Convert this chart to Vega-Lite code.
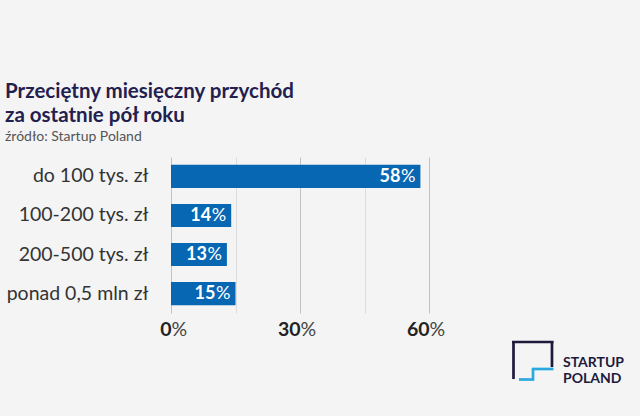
{
  "$schema": "https://vega.github.io/schema/vega-lite/v6.json",
  "autosize": {"type": "none"},
  "padding": {"left": 171, "top": 157, "right": 211, "bottom": 103},
  "width": 258,
  "height": 156,
  "background": "#f4f4f4",
  "config": {"font": "Lato", "view": {"stroke": null}},
  "title": {
    "text": ["Przeciętny miesięczny przychód", "za ostatnie pół roku"],
    "subtitle": "źródło: Startup Poland",
    "anchor": "start",
    "frame": "group",
    "dx": -166,
    "offset": 13,
    "fontSize": 20.5,
    "fontWeight": "bold",
    "lineHeight": 24,
    "color": "#23204f",
    "subtitleFontSize": 14,
    "subtitleColor": "#555555",
    "subtitlePadding": 4
  },
  "data": {
    "values": [
      {"kategoria": "do 100 tys. zł", "udzial": 58},
      {"kategoria": "100-200 tys. zł", "udzial": 14},
      {"kategoria": "200-500 tys. zł", "udzial": 13},
      {"kategoria": "ponad 0,5 mln zł", "udzial": 15}
    ]
  },
  "layer": [
    {
      "mark": {"type": "bar", "color": "#0767b3"},
      "encoding": {
        "y": {
          "field": "kategoria",
          "type": "nominal",
          "sort": null,
          "title": null,
          "scale": {"paddingInner": 0.41, "paddingOuter": 0.2},
          "axis": {
            "ticks": false,
            "domain": false,
            "labelPadding": 23,
            "labelFontSize": 19.5,
            "labelColor": "#333333",
            "labelLimit": 200
          }
        },
        "x": {
          "field": "udzial",
          "type": "quantitative",
          "title": null,
          "scale": {"domain": [0, 60], "nice": false},
          "axis": {
            "orient": "bottom",
            "values": [0, 15, 30, 45, 60],
            "labelExpr": "datum.value % 30 === 0 ? datum.value : ''",
            "labelAlign": "right",
            "labelDx": 3,
            "labelPadding": 7,
            "labelFontSize": 19.5,
            "labelFontWeight": "bold",
            "labelColor": "#222222",
            "ticks": false,
            "domain": false,
            "grid": true,
            "gridColor": {"condition": {"test": "datum.value % 30 === 0", "value": "#c2c2c2"}, "value": "#dcdcdc"}
          }
        }
      }
    },
    {
      "mark": {"type": "text", "align": "right", "baseline": "middle", "dx": -20, "fontSize": 18, "fontWeight": "bold", "color": "white"},
      "encoding": {
        "y": {"field": "kategoria", "type": "nominal", "sort": null, "axis": null},
        "x": {"field": "udzial", "type": "quantitative", "axis": null},
        "text": {"field": "udzial"}
      }
    },
    {
      "mark": {"type": "text", "align": "right", "baseline": "middle", "dx": -5, "fontSize": 18, "color": "white", "text": "%"},
      "encoding": {
        "y": {"field": "kategoria", "type": "nominal", "sort": null, "axis": null},
        "x": {
          "field": "udzial",
          "type": "quantitative",
          "title": null,
          "axis": {
            "orient": "bottom",
            "values": [0, 30, 60],
            "labelExpr": "'%'",
            "labelAlign": "left",
            "labelDx": 3,
            "labelPadding": 7,
            "labelFontSize": 19.5,
            "labelColor": "#444444",
            "ticks": false,
            "domain": false,
            "grid": false
          }
        }
      }
    },
    {
      "data": {
        "values": [
          {"x": 79.3, "x2": 88.95, "y": -29, "y2": -29, "c": "#1d1a3c"},
          {"x": 79.65, "x2": 79.65, "y": -28, "y2": -66, "c": "#1d1a3c"},
          {"x": 88.6, "x2": 88.6, "y": -28, "y2": -54, "c": "#1d1a3c"},
          {"x": 80.93, "x2": 84.42, "y": -66.5, "y2": -66.5, "c": "#2aa8e0"},
          {"x": 84.19, "x2": 84.19, "y": -55, "y2": -67.5, "c": "#2aa8e0"},
          {"x": 83.95, "x2": 88.95, "y": -56, "y2": -56, "c": "#2aa8e0"}
        ]
      },
      "mark": {"type": "rule", "strokeWidth": 2.7},
      "encoding": {
        "x": {"field": "x", "type": "quantitative", "axis": null},
        "x2": {"field": "x2"},
        "y": {"field": "y", "type": "quantitative", "scale": {"domain": [0, 156], "nice": false, "zero": false}, "axis": null},
        "y2": {"field": "y2"},
        "color": {"field": "c", "type": "nominal", "scale": null}
      }
    },
    {
      "data": {
        "values": [
          {"x": 91.16, "y": -54, "t": "STARTUP"},
          {"x": 91.16, "y": -69.5, "t": "POLAND"}
        ]
      },
      "mark": {"type": "text", "align": "left", "baseline": "alphabetic", "fontSize": 14, "fontWeight": "bold", "color": "#1d1a3c"},
      "encoding": {
        "x": {"field": "x", "type": "quantitative", "axis": null},
        "y": {"field": "y", "type": "quantitative", "scale": {"domain": [0, 156], "nice": false, "zero": false}, "axis": null},
        "text": {"field": "t"}
      }
    }
  ],
  "resolve": {"scale": {"y": "independent"}, "axis": {"x": "independent", "y": "independent"}}
}
